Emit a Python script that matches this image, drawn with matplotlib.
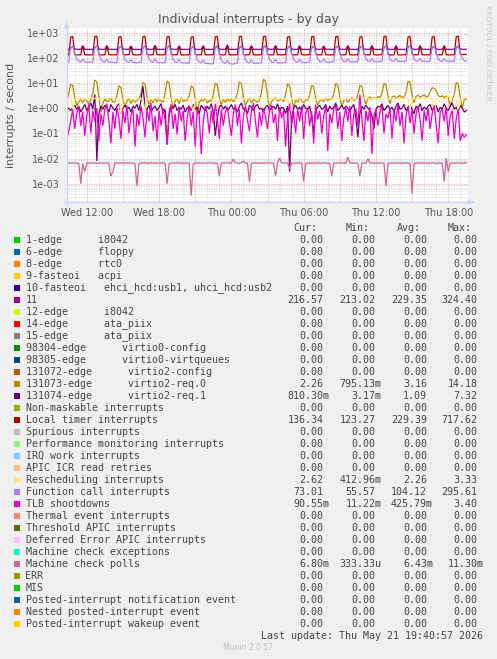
import numpy as np
import matplotlib
matplotlib.use("Agg")
import matplotlib.pyplot as plt
from matplotlib.patches import Rectangle
from matplotlib.ticker import NullLocator

W, H = 497, 659

# time axis: 10-minute samples, hours since Wed 00:00
t_start = 10.3333
n_samples = 200
t = t_start + np.arange(n_samples) / 6.0

irq11 = [
    215, 216, 240, 290, 225, 216, 215, 215, 300, 217, 215, 214,
    216, 215, 245, 300, 228, 215, 216, 214, 305, 216, 215, 216,
    215, 216, 238, 285, 224, 216, 215, 216, 295, 215, 216, 215,
    216, 215, 242, 295, 226, 215, 216, 215, 310, 216, 215, 214,
    215, 216, 240, 300, 227, 216, 215, 216, 298, 215, 216, 215,
    216, 215, 236, 288, 225, 215, 216, 215, 300, 216, 215, 216,
    215, 216, 244, 298, 228, 216, 215, 214, 324, 216, 215, 216,
    216, 215, 240, 292, 226, 215, 216, 215, 302, 215, 216, 215,
    215, 216, 246, 305, 229, 216, 215, 216, 308, 216, 215, 214,
    216, 215, 240, 295, 226, 215, 216, 215, 300, 215, 216, 215,
    215, 216, 238, 290, 225, 216, 215, 216, 296, 216, 215, 216,
    216, 215, 242, 296, 227, 215, 216, 215, 304, 215, 216, 215,
    215, 216, 240, 292, 226, 216, 215, 216, 300, 216, 215, 214,
    216, 215, 244, 300, 228, 215, 216, 215, 306, 215, 216, 215,
    215, 216, 246, 304, 229, 216, 215, 216, 302, 216, 215, 216,
    216, 215, 236, 286, 224, 215, 216, 215, 298, 215, 216, 215,
    215, 216, 242, 298, 227, 216, 216, 217,
]

virtio2_req0 = [
    2.0, 3.5, 9.0, 8.0, 2.6, 1.2, 1.8, 2.2, 1.6, 2.4, 1.9, 1.5,
    2.1, 4.0, 13.0, 11.0, 3.0, 0.7, 1.6, 2.3, 1.8, 2.0, 2.5, 1.7,
    1.8, 3.2, 7.8, 6.5, 2.2, 1.1, 1.9, 2.4, 1.5, 2.2, 1.7, 2.0,
    2.3, 3.8, 10.5, 9.0, 2.8, 1.4, 2.1, 1.6, 2.5, 1.8, 2.2, 1.9,
    1.7, 4.0, 12.0, 10.0, 2.5, 0.9, 2.0, 2.3, 1.5, 2.6, 1.8, 2.1,
    2.0, 3.0, 7.6, 6.8, 2.4, 0.6, 1.7, 2.2, 1.9, 2.4, 1.6, 2.0,
    1.9, 3.5, 10.0, 8.5, 2.6, 1.3, 2.2, 1.7, 2.4, 1.9, 2.3, 1.8,
    2.2, 3.8, 11.0, 9.5, 2.7, 1.2, 1.9, 2.5, 1.6, 2.2, 2.0, 1.7,
    2.0, 4.2, 14.18, 11.5, 3.0, 1.1, 1.8, 2.3, 2.6, 1.9, 2.1, 2.4,
    1.8, 3.4, 9.3, 8.0, 2.5, 1.0, 2.2, 1.7, 2.4, 2.0, 1.6, 2.1,
    2.1, 3.2, 8.0, 7.0, 2.4, 1.3, 1.9, 2.3, 1.8, 2.5, 2.0, 2.2,
    2.3, 3.6, 9.5, 8.2, 2.6, 1.2, 2.0, 2.4, 1.7, 2.2, 2.6, 2.0,
    2.2, 3.3, 8.0, 7.0, 2.7, 1.4, 2.4, 2.8, 2.2, 2.6, 2.3, 2.9,
    2.6, 3.8, 9.5, 8.4, 3.0, 1.5, 2.7, 3.1, 2.5, 2.9, 3.2, 2.6,
    2.8, 4.2, 12.0, 10.5, 3.2, 1.6, 2.9, 3.3, 2.7, 3.0, 3.4, 2.8,
    3.0, 4.5, 6.5, 6.0, 5.0, 3.2, 2.8, 3.1, 2.6, 3.0, 2.7, 1.2,
    2.0, 3.5, 10.5, 9.0, 2.6, 1.0, 2.2, 2.26,
]

virtio2_req1 = [
    0.9, 1.0, 0.8, 1.1, 1.3, 0.9, 1.2, 0.7, 1.0, 1.4, 0.8, 1.1, 1.6, 0.9, 3.5, 0.008, 0.6, 1.2, 0.9, 1.3,
    1.1, 0.7, 1.4, 1.0, 0.8, 1.2, 1.5, 0.6, 1.0, 1.3, 0.9, 1.1, 0.7, 1.2, 1.0, 1.4, 0.8, 2.0, 7.3, 1.1,
    0.9, 1.3, 0.7, 1.0, 1.2, 0.8, 1.1, 1.5, 0.6, 0.9, 0.035, 0.5, 1.2, 1.0, 1.4, 0.8, 1.1, 0.9, 1.3, 0.7,
    1.0, 1.2, 0.8, 1.4, 0.9, 1.1, 0.6, 1.3, 1.0, 0.8, 1.2, 0.9, 1.5, 0.7, 0.08, 0.4, 1.1, 1.3, 0.9, 1.2,
    0.8, 1.0, 1.4, 0.9, 1.1, 0.7, 1.2, 1.6, 0.9, 1.0, 0.6, 1.3, 1.1, 0.8, 1.2, 1.4, 0.9, 1.0, 0.7, 1.1,
    1.3, 0.8, 1.0, 1.2, 0.9, 1.5, 0.7, 1.1, 1.0, 0.6, 1.2, 0.003, 0.4, 1.0, 1.3, 0.9, 1.1, 0.8, 1.4, 1.0,
    0.9, 1.2, 0.5, 0.1, 0.8, 1.1, 1.3, 0.9, 1.0, 1.4, 0.7, 1.2, 0.9, 1.1, 1.6, 0.8, 1.0, 1.3, 0.9, 1.2,
    1.0, 0.7, 1.1, 1.4, 0.4, 0.07, 0.6, 1.2, 0.9, 1.3, 1.0, 0.8, 0.5, 0.15, 0.9, 1.2, 1.1, 1.5, 0.8, 1.0,
    1.3, 0.9, 1.1, 0.7, 1.2, 1.6, 0.9, 1.0, 1.4, 0.8, 1.1, 1.3, 0.9, 0.6, 1.2, 1.0, 1.5, 0.8, 1.1, 0.9,
    1.2, 1.4, 0.8, 1.0, 1.3, 0.7, 1.1, 0.9, 1.5, 1.0, 0.8, 1.2, 1.6, 0.9, 1.1, 0.7, 1.3, 1.0, 0.7, 0.81,
]

local_timer = [
    128, 129, 650, 700, 135, 129, 130, 131, 300, 131, 130, 129,
    130, 131, 690, 717, 138, 130, 129, 131, 295, 132, 131, 130,
    131, 130, 660, 700, 140, 131, 130, 132, 290, 130, 131, 129,
    130, 132, 680, 710, 136, 130, 131, 130, 300, 131, 132, 130,
    131, 130, 670, 705, 139, 131, 130, 131, 285, 130, 129, 131,
    130, 129, 650, 690, 137, 130, 131, 130, 295, 131, 130, 131,
    131, 130, 670, 715, 140, 130, 129, 131, 300, 130, 131, 130,
    130, 131, 680, 705, 135, 129, 131, 130, 290, 131, 130, 129,
    131, 130, 690, 717, 138, 131, 130, 131, 295, 130, 131, 130,
    130, 131, 660, 700, 136, 130, 131, 130, 300, 131, 130, 131,
    131, 130, 670, 710, 139, 131, 130, 129, 290, 131, 130, 130,
    130, 129, 680, 705, 137, 130, 131, 131, 295, 130, 131, 130,
    131, 130, 650, 700, 138, 131, 130, 130, 300, 131, 130, 129,
    130, 131, 690, 715, 136, 130, 129, 131, 285, 130, 131, 130,
    131, 130, 670, 705, 140, 131, 130, 130, 295, 131, 130, 131,
    130, 131, 660, 700, 137, 130, 131, 130, 300, 132, 131, 130,
    131, 130, 680, 710, 138, 136, 135, 136,
]

rescheduling = [
    2.3, 2.4, 2.5, 0.8, 2.2, 2.4, 2.3, 2.5, 2.4, 2.3, 2.2, 2.4,
    2.5, 2.3, 2.4, 2.6, 2.3, 2.2, 2.4, 2.5, 2.3, 2.4, 2.6, 2.3,
    2.4, 2.2, 2.3, 0.6, 2.1, 2.3, 2.5, 2.4, 2.3, 2.2, 2.4, 2.5,
    2.3, 2.4, 2.2, 0.7, 2.4, 2.5, 2.3, 2.2, 2.4, 2.6, 2.3, 2.4,
    2.2, 2.5, 2.3, 2.4, 2.2, 2.3, 2.5, 2.4, 2.2, 2.3, 2.4, 2.2,
    2.4, 2.3, 2.2, 0.45, 2.3, 2.4, 2.2, 2.5, 2.3, 2.4, 2.2, 2.3,
    2.3, 2.4, 2.6, 1.1, 2.2, 2.3, 2.4, 2.2, 2.5, 2.3, 2.4, 2.3,
    2.2, 2.3, 2.4, 2.5, 2.3, 2.2, 2.4, 2.3, 2.2, 2.5, 2.3, 2.4,
    2.4, 2.2, 2.3, 2.4, 2.2, 2.5, 2.3, 2.4, 2.3, 2.2, 2.4, 2.3,
    2.3, 2.4, 2.2, 1.2, 2.4, 2.3, 2.2, 2.5, 2.3, 2.4, 2.2, 2.3,
    2.5, 2.3, 2.4, 2.3, 2.2, 2.4, 2.3, 2.2, 2.4, 2.3, 2.5, 2.4,
    2.3, 2.2, 2.4, 2.5, 2.3, 2.4, 2.2, 2.3, 2.5, 2.4, 2.3, 2.2,
    2.4, 2.3, 2.2, 2.4, 2.5, 2.3, 2.4, 2.2, 2.3, 2.4, 2.5, 2.3,
    2.2, 2.4, 2.3, 2.5, 2.3, 2.2, 2.4, 2.3, 2.5, 2.4, 2.2, 2.3,
    2.3, 2.5, 2.4, 1.0, 2.3, 2.4, 2.2, 2.3, 2.4, 2.3, 2.5, 2.4,
    2.4, 2.3, 2.2, 0.6, 2.0, 2.3, 2.4, 2.5, 2.3, 2.4, 3.3, 2.4,
    2.3, 2.4, 2.2, 0.7, 2.3, 2.5, 2.4, 2.62,
]

function_call = [
    66, 65, 250, 295, 160, 90, 72, 68, 90, 67, 66, 65,
    67, 66, 260, 295, 150, 88, 70, 67, 88, 66, 67, 66,
    64, 65, 255, 290, 155, 86, 69, 66, 85, 65, 64, 63,
    65, 66, 262, 294, 158, 90, 70, 66, 90, 65, 64, 65,
    63, 62, 250, 288, 150, 85, 68, 64, 86, 63, 62, 62,
    61, 60, 245, 285, 148, 84, 66, 62, 82, 60, 59, 58,
    58, 57, 240, 280, 145, 82, 64, 60, 80, 58, 57, 56,
    60, 61, 255, 292, 150, 86, 66, 62, 84, 61, 60, 61,
    62, 63, 260, 295, 155, 88, 68, 64, 86, 63, 62, 63,
    64, 65, 250, 290, 150, 86, 69, 66, 88, 65, 64, 65,
    66, 67, 262, 294, 156, 90, 71, 68, 90, 67, 66, 67,
    68, 69, 258, 290, 152, 88, 72, 70, 90, 69, 68, 69,
    70, 71, 265, 295, 158, 92, 74, 71, 92, 70, 71, 70,
    71, 72, 260, 290, 155, 90, 74, 72, 92, 71, 72, 71,
    72, 73, 268, 296, 160, 92, 75, 73, 94, 72, 73, 72,
    71, 72, 262, 292, 156, 90, 74, 72, 92, 73, 72, 73,
    72, 73, 270, 295, 158, 95, 76, 73,
]

tlb_shootdowns = [
    0.06, 0.12, 0.3, 0.9, 0.15, 0.6, 1.2, 0.2, 0.7, 0.08, 0.5, 1.4, 0.1, 0.8, 0.3, 1.0, 0.05, 0.6, 0.2, 0.9,
    1.5, 0.3, 0.04, 0.7, 0.15, 1.1, 0.4, 0.06, 0.8, 0.25, 1.3, 0.1, 0.5, 0.9, 0.03, 0.6, 0.2, 1.2, 0.4, 0.07,
    0.9, 0.3, 1.6, 0.12, 0.5, 0.05, 0.8, 0.2, 1.0, 0.35, 0.04, 0.7, 1.4, 0.15, 0.6, 0.09, 1.1, 0.3, 0.8, 0.05,
    0.4, 1.3, 0.2, 0.7, 0.03, 0.9, 0.5, 0.015, 0.3, 1.2, 0.6, 0.1, 0.8, 0.25, 1.5, 0.4, 0.06, 0.9, 0.2, 0.7,
    1.1, 0.3, 0.08, 0.6, 1.4, 0.2, 0.9, 0.04, 0.5, 1.2, 0.35, 0.12, 0.8, 1.6, 0.3, 0.07, 0.7, 0.2, 1.0, 0.45,
    0.15, 0.9, 1.3, 0.25, 0.6, 0.05, 1.1, 0.4, 0.8, 0.03, 0.5, 1.5, 0.2, 0.7, 0.1, 0.9, 0.3, 1.2, 0.06, 0.6,
    1.0, 0.2, 0.7, 0.04, 1.4, 0.35, 0.8, 0.1, 0.5, 1.1, 0.02, 0.6, 0.25, 0.9, 1.3, 0.15, 0.7, 0.05, 0.4, 1.0,
    0.3, 1.2, 0.08, 0.6, 0.9, 0.2, 3.4, 0.4, 0.05, 0.8, 0.3, 1.1, 0.015, 0.5, 0.9, 0.2, 0.7, 1.3, 0.1, 0.6,
    0.4, 1.0, 0.06, 0.8, 0.3, 1.4, 0.2, 0.7, 0.04, 0.5, 1.1, 0.25, 0.9, 0.1, 0.6, 1.2, 0.35, 0.05, 0.8, 0.3,
    1.0, 0.15, 0.6, 1.3, 0.2, 0.04, 0.7, 0.9, 0.3, 1.1, 0.08, 0.5, 0.8, 0.06, 0.4, 0.9, 0.05, 0.1, 0.07, 0.09,
]

mc_polls = [
    0.0065, 0.0067, 0.0066, 0.0068, 0.0065, 0.0066, 0.0064, 0.0010, 0.0062, 0.0030,
    0.0066, 0.0067, 0.0065, 0.0068, 0.0066, 0.0065, 0.0067, 0.0066, 0.0064, 0.0066,
    0.0067, 0.0065, 0.0020, 0.0030, 0.0066, 0.0068, 0.0065, 0.0067, 0.0066, 0.0065,
    0.0068, 0.0066, 0.0067, 0.0065, 0.0062, 0.0008, 0.0064, 0.0066, 0.0068, 0.0067,
    0.0065, 0.0066, 0.0068, 0.0067, 0.0065, 0.0066, 0.0067, 0.0065, 0.0068, 0.0064,
    0.0010, 0.0063, 0.0066, 0.0067, 0.0065, 0.0068, 0.0066, 0.0067, 0.0065, 0.0066,
    0.0067, 0.0064, 0.00033, 0.0062, 0.0066, 0.0068, 0.0065, 0.0067, 0.0066, 0.0065,
    0.0067, 0.0068, 0.0066, 0.0065, 0.0067, 0.0064, 0.0020, 0.0065, 0.0067, 0.0066,
    0.0068, 0.0065, 0.0066, 0.0095, 0.0067, 0.0066, 0.0065, 0.0068, 0.0080, 0.0066,
    0.0067, 0.0012, 0.0064, 0.0066, 0.0068, 0.0065, 0.0067, 0.0066, 0.0065, 0.0067,
    0.0066, 0.0068, 0.0065, 0.0064, 0.0020, 0.0066, 0.0105, 0.0067, 0.0065, 0.0068,
    0.0066, 0.0040, 0.0065, 0.0067, 0.0066, 0.0068, 0.0065, 0.0066, 0.0012, 0.0064,
    0.0067, 0.0066, 0.0065, 0.0068, 0.0066, 0.0067, 0.0065, 0.0066, 0.0068, 0.0067,
    0.0065, 0.0064, 0.0020, 0.0066, 0.0067, 0.0065, 0.0068, 0.0066, 0.0067, 0.0065,
    0.0113, 0.0066, 0.0068, 0.0065, 0.0067, 0.0064, 0.0020, 0.0066, 0.0067, 0.0065,
    0.0098, 0.0066, 0.0068, 0.0065, 0.0067, 0.0066, 0.0065, 0.0068, 0.0064, 0.0008,
    0.0063, 0.0066, 0.0067, 0.0065, 0.0068, 0.0066, 0.0067, 0.0065, 0.0066, 0.0068,
    0.0065, 0.0064, 0.0004, 0.0062, 0.0066, 0.0067, 0.0065, 0.0068, 0.0066, 0.0067,
    0.0065, 0.0066, 0.0068, 0.0067, 0.0065, 0.0066, 0.0067, 0.0064, 0.0012, 0.0105,
    0.0030, 0.0066, 0.0067, 0.0065, 0.0068, 0.0066, 0.0067, 0.0065, 0.0066, 0.0068,
]

# drawn series, in legend order (later ones on top)
plotted = [
    (irq11, '#990099'),
    (virtio2_req0, '#B38F00'),
    (virtio2_req1, '#6B006B'),
    (local_timer, '#B30000'),
    (rescheduling, '#FFE680'),
    (function_call, '#AA80FF'),
    (tlb_shootdowns, '#EE00CC'),
    (mc_polls, '#CC6699'),
]

x_ticks = [12, 18, 24, 30, 36, 42]
x_tick_labels = ['Wed 12:00', 'Wed 18:00', 'Thu 00:00', 'Thu 06:00', 'Thu 12:00', 'Thu 18:00']
y_ticks = [1e-3, 1e-2, 1e-1, 1e0, 1e1, 1e2, 1e3]
y_tick_labels = ['1e-03', '1e-02', '1e-01', '1e+00', '1e+01', '1e+02', '1e+03']

legend_labels = [
    '1-edge      i8042', '6-edge      floppy', '8-edge      rtc0', '9-fasteoi   acpi',
    '10-fasteoi   ehci_hcd:usb1, uhci_hcd:usb2', '11', '12-edge      i8042',
    '14-edge      ata_piix', '15-edge      ata_piix', '98304-edge      virtio0-config',
    '98305-edge      virtio0-virtqueues', '131072-edge      virtio2-config',
    '131073-edge      virtio2-req.0', '131074-edge      virtio2-req.1',
    'Non-maskable interrupts', 'Local timer interrupts', 'Spurious interrupts',
    'Performance monitoring interrupts', 'IRQ work interrupts', 'APIC ICR read retries',
    'Rescheduling interrupts', 'Function call interrupts', 'TLB shootdowns',
    'Thermal event interrupts', 'Threshold APIC interrupts', 'Deferred Error APIC interrupts',
    'Machine check exceptions', 'Machine check polls', 'ERR', 'MIS',
    'Posted-interrupt notification event', 'Nested posted-interrupt event',
    'Posted-interrupt wakeup event',
]
legend_colors = [
    '#00CC00', '#0066B3', '#FF8000', '#FFCC00', '#330099', '#990099', '#CCFF00',
    '#FF0000', '#808080', '#008F00', '#00487D', '#B35A00', '#B38F00', '#6B006B',
    '#8FB300', '#B30000', '#BEBEBE', '#80FF80', '#80C9FF', '#FFC080', '#FFE680',
    '#AA80FF', '#EE00CC', '#FF8080', '#666600', '#FFBFFF', '#00FFCC', '#CC6699',
    '#999900', '#00CC00', '#0066B3', '#FF8000', '#FFCC00',
]
z = '0.00'
cur_vals = [z] * 5 + ['216.57'] + [z] * 6 + ['2.26', '810.30m', z, '136.34', z, z, z, z,
            '2.62', '73.01', '90.55m', z, z, z, z, '6.80m', z, z, z, z, z]
min_vals = [z] * 5 + ['213.02'] + [z] * 6 + ['795.13m', '3.17m', z, '123.27', z, z, z, z,
            '412.96m', '55.57', '11.22m', z, z, z, z, '333.33u', z, z, z, z, z]
avg_vals = [z] * 5 + ['229.35'] + [z] * 6 + ['3.16', '1.09', z, '229.39', z, z, z, z,
            '2.26', '104.12', '425.79m', z, z, z, z, '6.43m', z, z, z, z, z]
max_vals = [z] * 5 + ['324.40'] + [z] * 6 + ['14.18', '7.32', z, '717.62', z, z, z, z,
            '3.33', '295.61', '3.40', z, z, z, z, '11.30m', z, z, z, z, z]

fig = plt.figure(figsize=(W / 100, H / 100), dpi=100, facecolor='#f0f0f0')

# plot area in pixels
px_left, px_right, px_top, px_bottom = 66.7, 468.3, 28.0, 202.0
ax = fig.add_axes([px_left / W, 1 - px_bottom / H, (px_right - px_left) / W, (px_bottom - px_top) / H])
ax.set_facecolor('white')
ax.set_yscale('log')
ax.set_xlim(t_start, t_start + 33.333)
ax.set_ylim(10 ** -3.726, 10 ** 3.18)
for s in ax.spines.values():
    s.set_visible(False)

# grid
dot = (0, (1, 1))
for d in range(-4, 4):
    for m in range(2, 10):
        ax.axhline(m * 10.0 ** d, color='#dadada', lw=0.6, ls=dot, zorder=0)
    ax.axhline(10.0 ** d, color='#f0a8a8', lw=0.6, ls=dot, zorder=0.5)
for hr in range(11, 44):
    if hr % 3 == 0:
        ax.axvline(hr, color='#f0a8a8', lw=0.6, ls=dot, zorder=0.5)
    else:
        ax.axvline(hr, color='#dadada', lw=0.6, ls=dot, zorder=0)

for vals, col in plotted:
    ax.plot(t, vals, color=col, lw=0.9, solid_joinstyle='miter')

ax.set_xticks(x_ticks)
ax.set_xticklabels(x_tick_labels)
ax.set_yticks(y_ticks)
ax.set_yticklabels(y_tick_labels)
ax.yaxis.set_minor_locator(NullLocator())
ax.tick_params(axis='both', length=0, labelsize=7, labelcolor='#555555')
ax.tick_params(axis='y', pad=5)
ax.tick_params(axis='x', pad=4)


def fx(x):
    return x / W


def fy(y):
    return 1 - y / H


# axis lines with arrows
arrow_col = '#c8d0ff'
fig.add_artist(plt.Line2D([fx(px_left), fx(px_left)], [fy(px_bottom + 3), fy(px_top - 3)],
                          color=arrow_col, lw=0.8))
fig.add_artist(plt.Line2D([fx(px_left - 3), fx(px_right + 3)], [fy(px_bottom), fy(px_bottom)],
                          color=arrow_col, lw=0.8))
ax.annotate('', xy=(fx(px_left), fy(px_top - 8)), xytext=(fx(px_left), fy(px_top - 2)),
            xycoords='figure fraction',
            arrowprops=dict(arrowstyle='-|>', color=arrow_col, lw=0.8, mutation_scale=7))
ax.annotate('', xy=(fx(px_right + 8), fy(px_bottom)), xytext=(fx(px_right + 2), fy(px_bottom)),
            xycoords='figure fraction',
            arrowprops=dict(arrowstyle='-|>', color=arrow_col, lw=0.8, mutation_scale=7))

fig.text(fx(248), fy(19), 'Individual interrupts - by day', ha='center', va='center',
         fontsize=9, color='#555555')
fig.text(fx(11), fy(115), 'interrupts / second', rotation=90, ha='center', va='center',
         fontsize=8, color='#555555')
fig.text(fx(488), fy(53), 'RRDTOOL / TOBI OETIKER', rotation=270, ha='center', va='center',
         fontsize=5.4, color='#c8c8c8')

# legend table
mono = 'DejaVu Sans Mono'
fs = 7.2
cw = 6.02
txt_col = '#444444'
col_right = [323.5, 375.5, 427.0, 477.5]
headers = ['Cur:', 'Min:', 'Avg:', 'Max:']
for h, r in zip(headers, col_right):
    fig.text(fx(r - 5 * cw), fy(227.7), h, ha='left', va='center', family=mono,
             fontsize=fs, color=txt_col)

row0, row_h = 239.7, 12.0
for i, (lab, col) in enumerate(zip(legend_labels, legend_colors)):
    y = row0 + row_h * i
    fig.add_artist(Rectangle((fx(14), fy(y + 3)), 6 / W, 6 / H, transform=fig.transFigure,
                             facecolor=col, edgecolor='none'))
    fig.text(fx(25.5), fy(y), lab, ha='left', va='center', family=mono, fontsize=fs, color=txt_col)
    for vals, r in zip((cur_vals, min_vals, avg_vals, max_vals), col_right):
        s = vals[i]
        num = s[:-1] if s[-1] in 'mu' else s
        fig.text(fx(r - len(num) * cw), fy(y), s, ha='left', va='center', family=mono,
                 fontsize=fs, color=txt_col)

fig.text(fx(482.7), fy(635.7), 'Last update: Thu May 21 19:40:57 2026', ha='right', va='center',
         family=mono, fontsize=fs, color=txt_col)
fig.text(fx(247.7), fy(647.7), 'Munin 2.0.57', ha='center', va='center', fontsize=5.5,
         color='#c0c0c0')

fig.savefig('out.png', dpi=100, facecolor=fig.get_facecolor())
